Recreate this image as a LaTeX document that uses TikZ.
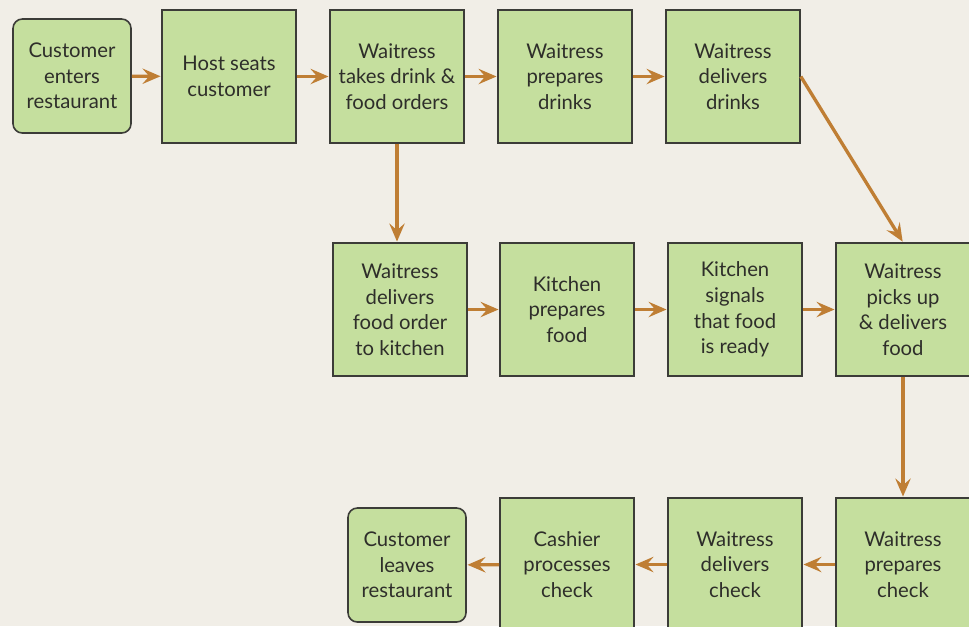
\documentclass[tikz,border=0pt]{standalone}
\usepackage{fontspec}
\setmainfont{Lato}
\usetikzlibrary{arrows.meta}
\definecolor{bg}{HTML}{F1EEE7}
\definecolor{boxfill}{HTML}{C5DF9E}
\definecolor{edge}{HTML}{3C3C38}
\definecolor{flow}{HTML}{BF7E34}
\definecolor{ink}{HTML}{2E2E2A}
\begin{document}
\begin{tikzpicture}[x=0.75pt,y=-0.75pt,
  stepbox/.style={draw=edge, fill=boxfill, line width=1.2pt, minimum width=100.5pt,
    minimum height=99.75pt, inner sep=0pt, align=center,
    font=\fontsize{15.2}{19.2}\selectfont, text=ink},
  endbox/.style={stepbox, rounded corners=7pt, minimum width=88.5pt, minimum height=85.5pt},
  flowarrow/.style={draw=flow, line width=2.5pt,
    -{Stealth[length=13.5pt, width=11.5pt, inset=5pt]}, shorten >=0.5pt}]
\fill[bg] (0,0) rectangle (969,626);
\clip (0,0) rectangle (969,626);
\useasboundingbox (0,0) rectangle (969,626);
% first row
\node[endbox]  (enter)   at (72,76)    {Customer\\enters\\restaurant};
\node[stepbox] (seat)    at (229,76.5) {Host seats\\customer};
\node[stepbox] (orders)  at (397,76.5) {Waitress\\takes drink \&\\food orders};
\node[stepbox] (prepd)   at (565,76.5) {Waitress\\prepares\\drinks};
\node[stepbox] (deliverd) at (733,76.5) {Waitress\\delivers\\drinks};
% second row
\node[stepbox] (tokitchen) at (400,309.5) {Waitress\\delivers\\food order\\to kitchen};
\node[stepbox] (cook)      at (567,309.5) {Kitchen\\prepares\\food};
\node[stepbox] (signal)    at (735,309.5) {Kitchen\\signals\\that food\\is ready};
\node[stepbox] (pickup)    at (903,309.5) {Waitress\\picks up\\\& delivers\\food};
% third row
\node[stepbox] (prepc)   at (903,564.5) {Waitress\\prepares\\check};
\node[stepbox] (deliverc) at (735,564.5) {Waitress\\delivers\\check};
\node[stepbox] (cashier) at (567,564.5) {Cashier\\processes\\check};
\node[endbox]  (leave)   at (407,565)  {Customer\\leaves\\restaurant};
% connectors
\draw[flowarrow] (enter) -- (seat);
\draw[flowarrow] (seat) -- (orders);
\draw[flowarrow] (orders) -- (prepd);
\draw[flowarrow] (prepd) -- (deliverd);
\draw[flowarrow] (deliverd.east) -- (pickup.north);
\draw[flowarrow] (orders.south) -- (tokitchen.north -| orders.south);
\draw[flowarrow] (tokitchen) -- (cook);
\draw[flowarrow] (cook) -- (signal);
\draw[flowarrow] (signal) -- (pickup);
\draw[flowarrow] (pickup) -- (prepc);
\draw[flowarrow] (prepc) -- (deliverc);
\draw[flowarrow] (deliverc) -- (cashier);
\draw[flowarrow] (cashier) -- (leave);
\end{tikzpicture}
\end{document}
